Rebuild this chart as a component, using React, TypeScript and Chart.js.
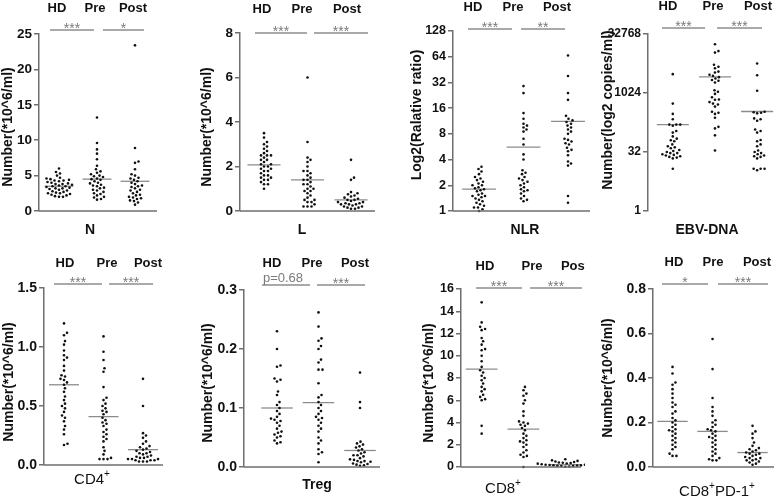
import React, { useEffect, useRef } from 'react';
import { Chart, registerables } from 'chart.js';
Chart.register(...registerables);

const GROUPS = ['HD', 'Pre', 'Post'];

// ---- N (*10^6/ml)
const N_HD = [6.0, 5.5, 5.3, 5.0, 4.7, 4.6, 4.5, 4.4, 4.3, 4.3, 4.2, 4.1, 4.0, 3.9, 3.8, 3.8, 3.7, 3.6, 3.5, 3.5, 3.4, 3.3, 3.2, 3.2, 3.1, 3.0, 2.9, 2.8, 2.7, 2.6, 2.5, 2.5, 2.4, 2.3, 2.2, 2.1, 2.0, 2.0];
const N_PRE = [13.2, 9.6, 8.7, 8.1, 7.3, 6.4, 5.9, 5.6, 5.4, 5.2, 5.0, 4.9, 4.8, 4.6, 4.5, 4.4, 4.2, 4.0, 3.9, 3.7, 3.6, 3.5, 3.3, 3.2, 3.0, 2.9, 2.7, 2.5, 2.4, 2.2, 2.0, 1.9, 1.7, 1.6];
const N_POST = [23.4, 8.9, 7.0, 6.8, 5.9, 5.2, 5.0, 4.7, 4.6, 4.4, 4.2, 4.0, 3.8, 3.6, 3.5, 3.4, 3.2, 3.0, 2.9, 2.7, 2.5, 2.3, 2.2, 2.0, 1.9, 1.8, 1.7, 1.5, 1.4, 1.2, 0.9];
const N_MEAN = [3.5, 4.5, 4.2];
const N_TICKS = [0, 5, 10, 15, 20, 25];

// ---- L (*10^6/ml)
const L_HD = [3.5, 3.3, 3.1, 3.0, 2.9, 2.8, 2.7, 2.6, 2.5, 2.5, 2.5, 2.4, 2.3, 2.3, 2.2, 2.1, 2.1, 2.0, 2.0, 1.9, 1.9, 1.8, 1.8, 1.7, 1.6, 1.6, 1.5, 1.5, 1.4, 1.4, 1.3, 1.2, 1.2, 1.0];
const L_PRE = [6.0, 3.1, 2.4, 2.3, 2.2, 2.0, 1.8, 1.8, 1.7, 1.6, 1.5, 1.4, 1.4, 1.3, 1.2, 1.2, 1.1, 1.0, 1.0, 0.9, 0.9, 0.8, 0.7, 0.6, 0.5, 0.5, 0.4, 0.4, 0.3, 0.2, 0.2, 0.2];
const L_POST = [2.3, 1.5, 1.4, 0.85, 0.8, 0.75, 0.7, 0.65, 0.6, 0.55, 0.5, 0.5, 0.45, 0.4, 0.4, 0.35, 0.35, 0.3, 0.3, 0.3, 0.25, 0.2, 0.2, 0.15, 0.15, 0.1, 0.1];
const L_MEAN = [2.07, 1.4, 0.5];
const L_TICKS = [0, 2, 4, 6, 8];

// ---- NLR (log2 ratio)
const NLR_HD = [3.3, 3.1, 2.9, 2.7, 2.5, 2.4, 2.3, 2.2, 2.1, 2.0, 2.0, 1.9, 1.85, 1.8, 1.75, 1.7, 1.6, 1.55, 1.5, 1.5, 1.45, 1.4, 1.35, 1.3, 1.25, 1.2, 1.15, 1.1, 1.1, 1.05, 1.0];
const NLR_PRE = [29, 24, 14, 12, 10.5, 10, 9.5, 9, 8.5, 7, 6, 4.6, 4.0, 3.0, 2.8, 2.7, 2.5, 2.4, 2.3, 2.2, 2.1, 2.0, 1.9, 1.8, 1.75, 1.7, 1.6, 1.5, 1.4, 1.35, 1.3];
const NLR_POST = [66, 38, 24, 20, 13, 12, 11.5, 11, 10.5, 10, 9.5, 9, 8.5, 8, 7, 6.8, 6.5, 6.2, 6, 5.5, 5.2, 5, 4.5, 3.8, 3.6, 3.4, 1.5, 1.25];
const NLR_MEAN = [1.8, 5.6, 11.2];
const NLR_TICKS = [1, 2, 4, 8, 16, 32, 64, 128];

// ---- EBV-DNA (copies/ml)
const EBV_HD = [3100, 550, 300, 220, 160, 160, 160, 150, 110, 100, 80, 70, 64, 60, 50, 45, 42, 40, 36, 34, 32, 30, 30, 28, 27, 26, 25, 24, 23, 22, 12];
const EBV_PRE = [18000, 12000, 11000, 5400, 4800, 4400, 3600, 3400, 3000, 2800, 2600, 2400, 2200, 2100, 1900, 1200, 1100, 970, 800, 700, 690, 600, 550, 520, 460, 340, 320, 300, 240, 140, 128, 85, 35];
const EBV_POST = [5800, 2900, 1170, 340, 330, 320, 310, 230, 220, 200, 120, 110, 100, 65, 60, 50, 45, 35, 32, 30, 28, 26, 25, 24, 22, 12, 12, 12, 11];
const EBV_MEAN = [160, 2650, 345];
const EBV_TICKS = [1, 32, 1024, 32768];

// ---- CD4+
const CD4_HD = [1.2, 1.12, 1.1, 1.05, 1.02, 0.97, 0.93, 0.91, 0.89, 0.84, 0.8, 0.76, 0.75, 0.73, 0.72, 0.7, 0.68, 0.65, 0.62, 0.58, 0.55, 0.52, 0.5, 0.48, 0.45, 0.42, 0.4, 0.37, 0.33, 0.3, 0.26, 0.18, 0.17];
const CD4_PRE = [1.09, 0.96, 0.89, 0.82, 0.79, 0.66, 0.57, 0.55, 0.52, 0.5, 0.48, 0.46, 0.45, 0.43, 0.4, 0.38, 0.36, 0.35, 0.33, 0.3, 0.28, 0.26, 0.24, 0.22, 0.2, 0.15, 0.12, 0.09, 0.06, 0.05, 0.05, 0.05];
const CD4_POST = [0.73, 0.5, 0.27, 0.25, 0.23, 0.2, 0.18, 0.16, 0.15, 0.14, 0.13, 0.12, 0.11, 0.1, 0.1, 0.09, 0.08, 0.07, 0.07, 0.06, 0.06, 0.05, 0.05, 0.05, 0.04, 0.04, 0.04, 0.03, 0.03, 0.03];
const CD4_MEAN = [0.68, 0.41, 0.13];
const CD4_TICKS = [0, 0.5, 1.0, 1.5];

// ---- Treg
const TREG_HD = [0.23, 0.2, 0.172, 0.17, 0.15, 0.148, 0.145, 0.128, 0.122, 0.11, 0.105, 0.1, 0.095, 0.09, 0.085, 0.082, 0.08, 0.078, 0.075, 0.07, 0.065, 0.06, 0.058, 0.055, 0.052, 0.05, 0.045, 0.042, 0.04];
const TREG_PRE = [0.262, 0.238, 0.218, 0.214, 0.205, 0.2, 0.182, 0.177, 0.165, 0.165, 0.142, 0.122, 0.118, 0.11, 0.105, 0.1, 0.095, 0.09, 0.085, 0.083, 0.08, 0.075, 0.07, 0.065, 0.06, 0.05, 0.045, 0.04, 0.03, 0.025, 0.022, 0.008];
const TREG_POST = [0.16, 0.11, 0.1, 0.043, 0.04, 0.038, 0.035, 0.033, 0.03, 0.028, 0.025, 0.023, 0.02, 0.02, 0.018, 0.015, 0.013, 0.012, 0.01, 0.01, 0.009, 0.008, 0.006, 0.005, 0.004, 0.003, 0.002];
const TREG_MEAN = [0.1, 0.109, 0.028];
const TREG_TICKS = [0, 0.1, 0.2, 0.3];

// ---- CD8+
const CD8_HD = [14.8, 13.0, 12.6, 12.4, 12.3, 11.6, 11.3, 11.0, 10.6, 10.5, 10.0, 9.5, 9.0, 8.7, 8.5, 8.2, 8.0, 7.8, 7.5, 7.2, 7.0, 6.8, 6.5, 6.3, 6.1, 6.0, 3.7, 3.0];
const CD8_PRE = [7.2, 6.9, 6.6, 6.4, 6.0, 5.7, 5.0, 4.6, 4.1, 4.0, 3.9, 3.8, 3.7, 3.5, 3.3, 3.0, 2.8, 2.6, 2.4, 2.3, 2.2, 2.0, 1.8, 1.5, 1.3, 1.1, 1.0, 0.9, 0.0];
const CD8_POST = [0.7, 0.6, 0.55, 0.5, 0.45, 0.4, 0.38, 0.35, 0.32, 0.3, 0.28, 0.25, 0.22, 0.2, 0.2, 0.18, 0.15, 0.15, 0.12, 0.1, 0.1, 0.08, 0.05, 0.02];
const CD8_MEAN = [8.8, 3.4, 0.22];
const CD8_TICKS = [0, 2, 4, 6, 8, 10, 12, 14, 16];

// ---- CD8+PD-1+
const PD1_HD = [0.45, 0.42, 0.38, 0.37, 0.35, 0.33, 0.31, 0.29, 0.28, 0.27, 0.25, 0.24, 0.22, 0.21, 0.2, 0.19, 0.18, 0.17, 0.165, 0.16, 0.15, 0.14, 0.13, 0.12, 0.11, 0.1, 0.09, 0.08, 0.06, 0.05, 0.05];
const PD1_PRE = [0.575, 0.44, 0.31, 0.27, 0.25, 0.23, 0.21, 0.2, 0.19, 0.18, 0.17, 0.165, 0.16, 0.15, 0.14, 0.135, 0.13, 0.12, 0.11, 0.1, 0.09, 0.08, 0.07, 0.06, 0.05, 0.04, 0.035, 0.03, 0.03];
const PD1_POST = [0.185, 0.16, 0.15, 0.13, 0.11, 0.095, 0.085, 0.08, 0.075, 0.07, 0.065, 0.06, 0.06, 0.055, 0.05, 0.045, 0.04, 0.04, 0.035, 0.03, 0.03, 0.025, 0.02, 0.015, 0.01];
const PD1_MEAN = [0.205, 0.16, 0.065];
const PD1_TICKS = [0, 0.2, 0.4, 0.6, 0.8];

const FONT = '"Liberation Sans", Arial, Helvetica, sans-serif';
const AXIS = '#6e6e6e';
const LINEC = '#8c8c8c';

type Part = { t: string; sup?: boolean };
interface Panel {
  data: number[][]; means: number[]; ticks: number[]; log: boolean; dec: number;
  sig: string[]; title: string; label: Part[]; labelBold: boolean;
  box: number[]; axisX: number; endX: number; topY: number; bottomY: number;
  c1: number; c3: number; headX: number[]; headY: number; barY: number; bars: number[][];
  titleX: number; titleY: number; labelX: number; labelY: number; xAxis: boolean; tickSize: number;
}

const PANELS: Panel[] = [
  { data: [N_HD, N_PRE, N_POST], means: N_MEAN, ticks: N_TICKS, log: false, dec: 0, sig: ['***', '*'],
    title: 'Number(*10^6/ml)', label: [{ t: 'N' }], labelBold: true,
    box: [0, 0, 199, 250], axisX: 39, endX: 157, topY: 34, bottomY: 211, c1: 59, c3: 135,
    headX: [57, 95, 133], headY: 8, barY: 30, bars: [[50, 94], [103, 144]],
    titleX: 8, titleY: 127, labelX: 90, labelY: 230, xAxis: true, tickSize: 13.5 },
  { data: [L_HD, L_PRE, L_POST], means: L_MEAN, ticks: L_TICKS, log: false, dec: 0, sig: ['***', '***'],
    title: 'Number(*10^6/ml)', label: [{ t: 'L' }], labelBold: true,
    box: [199, 0, 210, 250], axisX: 240, endX: 375, topY: 33, bottomY: 211, c1: 264, c3: 351,
    headX: [262, 302, 347], headY: 9, barY: 33, bars: [[255, 307], [314, 368]],
    titleX: 207, titleY: 127, labelX: 302, labelY: 230, xAxis: true, tickSize: 13.5 },
  { data: [NLR_HD, NLR_PRE, NLR_POST], means: NLR_MEAN, ticks: NLR_TICKS, log: true, dec: 0, sig: ['***', '**'],
    title: 'Log2(Ralative ratio)', label: [{ t: 'NLR' }], labelBold: true,
    box: [409, 0, 191, 250], axisX: 453, endX: 590, topY: 31, bottomY: 211, c1: 479, c3: 568,
    headX: [473, 513, 557], headY: 7, barY: 29, bars: [[468, 512], [521, 565]],
    titleX: 417, titleY: 115, labelX: 525, labelY: 230, xAxis: true, tickSize: 12.5 },
  { data: [EBV_HD, EBV_PRE, EBV_POST], means: EBV_MEAN, ticks: EBV_TICKS, log: true, dec: 0, sig: ['***', '***'],
    title: 'Number(log2 copies/ml)', label: [{ t: 'EBV-DNA' }], labelBold: true,
    box: [600, 0, 178, 250], axisX: 648, endX: 775, topY: 34, bottomY: 211, c1: 673, c3: 758,
    headX: [668, 713, 758], headY: 6, barY: 28, bars: [[662, 705], [717, 762]],
    titleX: 608, titleY: 110, labelX: 707, labelY: 230, xAxis: false, tickSize: 12 },
  { data: [CD4_HD, CD4_PRE, CD4_POST], means: CD4_MEAN, ticks: CD4_TICKS, log: false, dec: 1, sig: ['***', '***'],
    title: 'Number(*10^6/ml)', label: [{ t: 'CD4' }, { t: '+', sup: true }], labelBold: false,
    box: [0, 250, 200, 249], axisX: 44, endX: 163, topY: 288, bottomY: 465, c1: 64, c3: 143,
    headX: [65, 107, 148], headY: 263, barY: 284, bars: [[54, 102], [109, 153]],
    titleX: 9, titleY: 382, labelX: 92, labelY: 480, xAxis: true, tickSize: 14 },
  { data: [TREG_HD, TREG_PRE, TREG_POST], means: TREG_MEAN, ticks: TREG_TICKS, log: false, dec: 1, sig: ['p=0.68', '***'],
    title: 'Number(*10^6/ml)', label: [{ t: 'Treg' }], labelBold: true,
    box: [200, 250, 221, 249], axisX: 244, endX: 380, topY: 290, bottomY: 467, c1: 277, c3: 360,
    headX: [272, 312, 355], headY: 263, barY: 285, bars: [[262, 310], [317, 365]],
    titleX: 208, titleY: 383, labelX: 317, labelY: 485, xAxis: true, tickSize: 14 },
  { data: [CD8_HD, CD8_PRE, CD8_POST], means: CD8_MEAN, ticks: CD8_TICKS, log: false, dec: 0, sig: ['***', '***'],
    title: 'Number(*10^6/ml)', label: [{ t: 'CD8' }, { t: '+', sup: true }], labelBold: false,
    box: [421, 250, 164, 249], axisX: 461, endX: 583, topY: 289, bottomY: 467, c1: 482, c3: 567,
    headX: [485, 532, 575], headY: 266, barY: 288, bars: [[476, 522], [530, 582]],
    titleX: 429, titleY: 383, labelX: 503, labelY: 489, xAxis: true, tickSize: 12.5 },
  { data: [PD1_HD, PD1_PRE, PD1_POST], means: PD1_MEAN, ticks: PD1_TICKS, log: false, dec: 1, sig: ['*', '***'],
    title: 'Number(*10^6/ml)', label: [{ t: 'CD8' }, { t: '+', sup: true }, { t: 'PD-1' }, { t: '+', sup: true }], labelBold: false,
    box: [600, 250, 178, 249], axisX: 653, endX: 777, topY: 289, bottomY: 467, c1: 673, c3: 755,
    headX: [674, 713, 757], headY: 262, barY: 284, bars: [[662, 708], [718, 768]],
    titleX: 608, titleY: 378, labelX: 717, labelY: 492, xAxis: true, tickSize: 14 },
];

// deterministic beeswarm: each point takes the horizontal offset nearest the centre
// that keeps a minimum pixel distance from the points already placed
function swarm(values: number[], center: number, p: Panel, unitPx: number) {
  const f = (v: number) => (p.log ? Math.log2(Math.max(v, 1e-9)) : v);
  const lo = f(p.ticks[0]);
  const hi = f(p.ticks[p.ticks.length - 1]);
  const axisPx = p.bottomY - p.topY;
  const D = 3.6;
  const items = values.map((v) => ({ v, py: ((f(v) - lo) / (hi - lo)) * axisPx })).sort((a, b) => a.py - b.py);
  const placed: { px: number; py: number }[] = [];
  const pts: { x: number; y: number }[] = [];
  items.forEach((it) => {
    let best = 0;
    for (let k = 0; k < 400; k++) {
      const off = (k % 2 === 1 ? 1 : -1) * Math.ceil(k / 2) * 0.5;
      if (placed.every((q) => (q.px - off) ** 2 + (q.py - it.py) ** 2 >= D * D)) { best = off; break; }
    }
    placed.push({ px: best, py: it.py });
    pts.push({ x: center + best / unitPx, y: it.v });
  });
  return pts;
}

function buildConfig(p: Panel): any {
  const [L, T, W, H] = p.box;
  const unitPx = (p.c3 - p.c1) / 2;
  const xmin = 1 - (p.c1 - p.axisX) / unitPx;
  const xmax = 3 + (p.endX - p.c3) / unitPx;
  const pts = p.data.flatMap((arr, i) => swarm(arr, i + 1, p, unitPx));
  const meanSets = p.means.map((m, i) => ({
    type: 'line',
    data: [{ x: i + 1 - 0.38, y: m }, { x: i + 1 + 0.38, y: m }],
    borderColor: LINEC, borderWidth: 1.3, pointRadius: 0, fill: false, clip: false,
  }));
  const deco = {
    id: 'deco' + L + '_' + T,
    afterDraw(chart: any) {
      const ctx = chart.ctx;
      const ca = chart.chartArea;
      ctx.save();
      if (p.xAxis) {
        ctx.strokeStyle = AXIS; ctx.lineWidth = 1.5;
        ctx.beginPath(); ctx.moveTo(ca.left, ca.bottom); ctx.lineTo(ca.right, ca.bottom); ctx.stroke();
      }
      ctx.fillStyle = '#111';
      ctx.font = `bold 13px ${FONT}`;
      ctx.textAlign = 'center'; ctx.textBaseline = 'middle';
      GROUPS.forEach((g, i) => ctx.fillText(g, p.headX[i] - L, p.headY - T));
      p.bars.forEach((b, i) => {
        ctx.strokeStyle = LINEC; ctx.lineWidth = 1.5;
        ctx.beginPath(); ctx.moveTo(b[0] - L, p.barY - T); ctx.lineTo(b[1] - L, p.barY - T); ctx.stroke();
        const s = p.sig[i];
        ctx.fillStyle = '#7a7a7a';
        ctx.textBaseline = 'alphabetic';
        if (s.startsWith('p')) {
          ctx.font = `13px ${FONT}`;
          ctx.fillText(s, (b[0] + b[1]) / 2 - L - 3, p.barY - T - 3);
        } else {
          ctx.font = `14px ${FONT}`;
          ctx.fillText(s, (b[0] + b[1]) / 2 - L, p.barY - T + 3);
        }
      });
      // y title
      ctx.save();
      ctx.fillStyle = '#111';
      ctx.font = `bold 14px ${FONT}`;
      ctx.textAlign = 'center'; ctx.textBaseline = 'middle';
      ctx.translate(p.titleX - L, p.titleY - T);
      ctx.rotate(-Math.PI / 2);
      ctx.fillText(p.title, 0, 0);
      ctx.restore();
      // bottom label
      const mainFont = p.labelBold ? `bold 14px ${FONT}` : `15px ${FONT}`;
      const supFont = p.labelBold ? `bold 9px ${FONT}` : `10px ${FONT}`;
      let total = 0;
      p.label.forEach((part) => { ctx.font = part.sup ? supFont : mainFont; total += ctx.measureText(part.t).width; });
      let x = p.labelX - L - total / 2;
      ctx.fillStyle = '#111';
      ctx.textAlign = 'left'; ctx.textBaseline = 'middle';
      p.label.forEach((part) => {
        ctx.font = part.sup ? supFont : mainFont;
        ctx.fillText(part.t, x, p.labelY - T - (part.sup ? 6 : 0));
        x += ctx.measureText(part.t).width;
      });
      ctx.restore();
    },
  };
  const fmt = (v: any) => (p.dec > 0 ? Number(v).toFixed(p.dec) : String(Number(v)));
  return {
    type: 'scatter',
    data: {
      datasets: [
        { type: 'scatter', data: pts, pointRadius: 1.3, pointBackgroundColor: '#111', pointBorderWidth: 0, clip: false },
        ...meanSets,
      ],
    },
    options: {
      responsive: false, animation: false, devicePixelRatio: 1, events: [],
      layout: { padding: { left: 0, top: p.topY - T, bottom: T + H - p.bottomY, right: L + W - p.endX } },
      plugins: { legend: { display: false }, tooltip: { enabled: false }, title: { display: false } },
      scales: {
        x: { type: 'linear', display: false, min: xmin, max: xmax },
        y: {
          type: p.log ? 'logarithmic' : 'linear',
          min: p.ticks[0], max: p.ticks[p.ticks.length - 1],
          afterBuildTicks: (s: any) => { s.ticks = p.ticks.map((v) => ({ value: v })); },
          afterFit: (s: any) => { s.width = p.axisX - L; },
          ticks: { autoSkip: false, callback: fmt, color: '#111', padding: 2, font: { family: FONT, size: p.tickSize, weight: 'bold' } },
          grid: { display: true, drawOnChartArea: false, drawTicks: true, tickLength: 5, color: AXIS, lineWidth: 1.5 },
          border: { display: true, color: AXIS, width: 1.5 },
          title: { display: false },
        },
      },
    },
    plugins: [deco],
  };
}

function PanelChart({ p }: { p: Panel }) {
  const ref = useRef<HTMLCanvasElement>(null);
  useEffect(() => {
    const chart = new Chart(ref.current as HTMLCanvasElement, buildConfig(p));
    return () => chart.destroy();
  }, [p]);
  const [L, T, W, H] = p.box;
  return (
    <canvas ref={ref} width={W} height={H}
      style={{ position: 'absolute', left: L, top: T, width: W, height: H }} />
  );
}

export default function App() {
  return (
    <div style={{ position: 'absolute', left: 0, top: 0, width: 778, height: 499, background: '#fff', overflow: 'hidden' }}>
      {PANELS.map((p, i) => <PanelChart key={i} p={p} />)}
    </div>
  );
}
